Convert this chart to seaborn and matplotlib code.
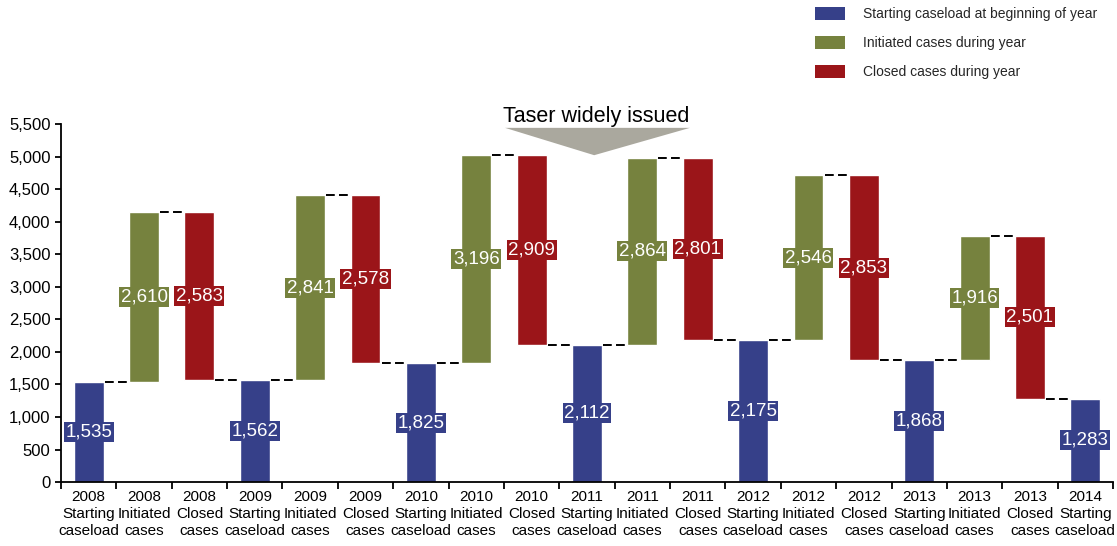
import matplotlib
matplotlib.use("Agg")
import matplotlib.pyplot as plt
from matplotlib.patches import Patch, Polygon
from matplotlib.ticker import FuncFormatter, MultipleLocator, FixedLocator
import seaborn as sns
import pandas as pd
import numpy as np

# ---- data ----
years_start = ["2008", "2009", "2010", "2011", "2012", "2013", "2014"]
starting = [1535, 1562, 1825, 2112, 2175, 1868, 1283]
initiated = [2610, 2841, 3196, 2864, 2546, 1916]
closed = [2583, 2578, 2909, 2801, 2853, 2501]
legend_labels = ["Starting caseload at beginning of year",
                 "Initiated cases during year",
                 "Closed cases during year"]
annotation_text = "Taser widely issued"
colors = {"start": "#364089", "init": "#76823E", "close": "#9B1519"}

# ---- build waterfall table ----
rows = []
for i, yr in enumerate(years_start):
    rows.append(dict(cat=f"{yr}\nStarting\ncaseload", kind="start",
                     bottom=0, height=starting[i], value=starting[i]))
    if i < len(initiated):
        top = starting[i] + initiated[i]
        rows.append(dict(cat=f"{yr}\nInitiated\ncases", kind="init",
                         bottom=starting[i], height=initiated[i], value=initiated[i]))
        rows.append(dict(cat=f"{yr}\nClosed\ncases", kind="close",
                         bottom=top - closed[i], height=closed[i], value=closed[i]))
df = pd.DataFrame(rows)
df["top"] = df["bottom"] + df["height"]

sns.set_theme(style="ticks")
plt.rcParams["font.family"] = ["Liberation Sans", "DejaVu Sans"]

fig = plt.figure(figsize=(11.17, 5.46), dpi=100)
ax = fig.add_axes([0.0546, 0.117, 0.9418, 0.656])

bw = 0.54
sns.barplot(data=df, x="cat", y="height", hue="kind", order=list(df["cat"]),
            hue_order=["start", "init", "close"], palette=colors, dodge=False,
            width=bw, ax=ax, legend=False, saturation=1)

# shift floating bars to their bottoms
for p in ax.patches:
    if p.get_height() == 0 or np.isnan(p.get_height()):
        continue
    idx = int(round(p.get_x() + p.get_width() / 2))
    p.set_y(df["bottom"].iloc[idx])

# connectors
for j in range(len(df) - 1):
    k = df["kind"].iloc[j]
    lvl = df["top"].iloc[j] if k in ("start", "init") else df["bottom"].iloc[j]
    ax.plot([j + bw / 2 + 0.02, j + 1 - bw / 2 - 0.02], [lvl, lvl], color="black",
            lw=1.4, dashes=(4.5, 2.2), solid_capstyle="butt")

# value labels
for j in range(len(df)):
    mid = df["bottom"].iloc[j] + df["height"].iloc[j] / 2
    c = colors[df["kind"].iloc[j]]
    ax.text(j, mid, f"{df['value'].iloc[j]:,}", ha="center", va="center",
            color="white", fontsize=13.5,
            bbox=dict(boxstyle="square,pad=0.08", fc=c, ec="none"))

# axes styling
ax.set_xlim(-0.5, len(df) - 0.5)
ax.set_ylim(0, 5500)
ax.yaxis.set_major_locator(MultipleLocator(500))
ax.yaxis.set_major_formatter(FuncFormatter(lambda v, p: f"{int(v):,}"))
ax.set_xlabel("")
ax.set_ylabel("")
sns.despine(ax=ax)
for s in ["left", "bottom"]:
    ax.spines[s].set_color("black")
    ax.spines[s].set_linewidth(1.3)
ax.tick_params(axis="x", which="major", length=0, labelsize=11, pad=6, colors="black")
ax.xaxis.set_minor_locator(FixedLocator(np.arange(-0.5, len(df), 1.0)))
ax.tick_params(axis="x", which="minor", length=5, width=1.3, color="black")
ax.tick_params(axis="y", length=4, width=1.3, labelsize=12, color="black", labelcolor="black")
for t in ax.get_xticklabels():
    t.set_linespacing(1.25)
    t.set_color("black")

# annotation
tri = Polygon([[7.52, 5440], [10.86, 5440], [9.13, 5020]], closed=True,
              fc="#aaa89e", ec="none", clip_on=False, zorder=5)
ax.add_patch(tri)
ax.text(9.16, 5610, annotation_text, ha="center", va="center", fontsize=15.5,
        color="black", clip_on=False)

# legend
handles = [Patch(fc=colors[k], ec="none") for k in ["start", "init", "close"]]
fig.legend(handles, legend_labels, loc="upper left", bbox_to_anchor=(0.718, 1.01),
           frameon=False, fontsize=10, handlelength=2.2, handleheight=1.1,
           labelspacing=1.05, handletextpad=1.3)

fig.savefig("out.png", dpi=100)
